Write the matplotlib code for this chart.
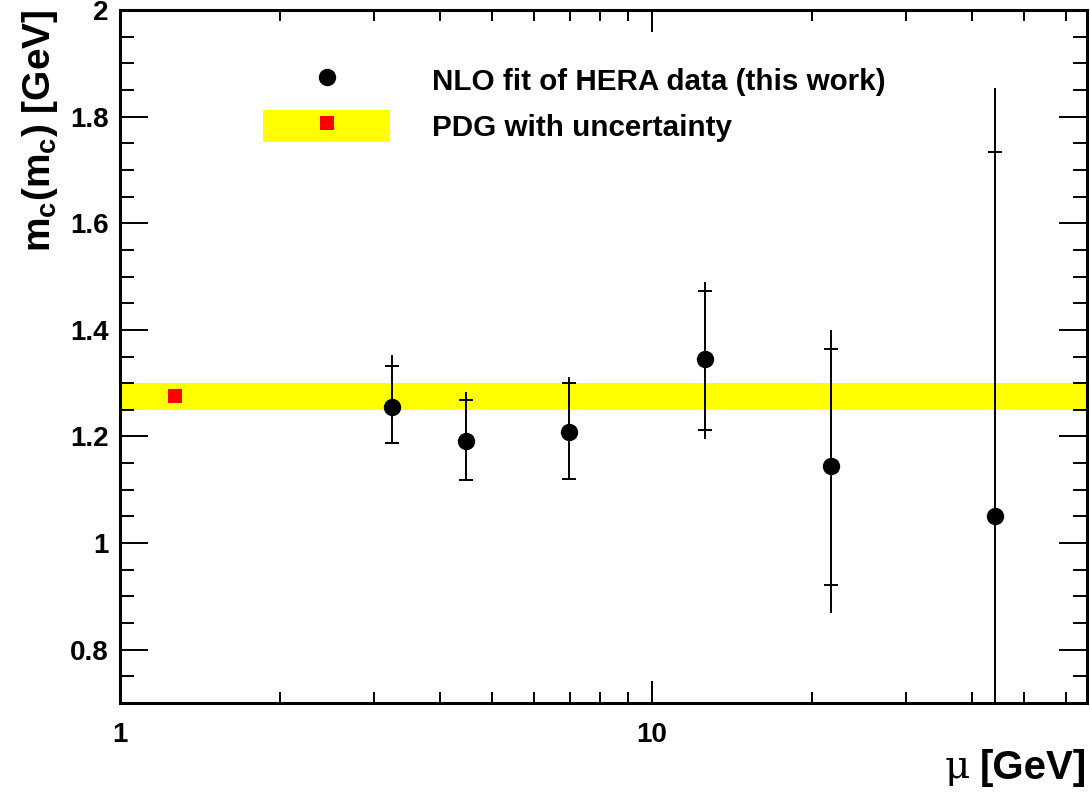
import numpy as np
import matplotlib
matplotlib.use("Agg")
import matplotlib.pyplot as plt
from matplotlib.lines import Line2D
from matplotlib.patches import Patch
from matplotlib.legend_handler import HandlerTuple

plt.rcParams['font.family'] = ['Liberation Sans', 'DejaVu Sans']
plt.rcParams['font.weight'] = 'bold'
plt.rcParams['mathtext.fontset'] = 'custom'
plt.rcParams['mathtext.rm'] = 'Liberation Sans:bold'
plt.rcParams['mathtext.it'] = 'Liberation Sans:bold'
plt.rcParams['mathtext.bf'] = 'Liberation Sans:bold'

# data
mu = [3.25, 4.47, 6.98, 12.6, 21.7, 44.2]
mc = [1.256, 1.192, 1.208, 1.345, 1.144, 1.050]
# total errors (down, up)
tot_dn = [0.069, 0.073, 0.087, 0.149, 0.275, 0.80]
tot_up = [0.096, 0.091, 0.103, 0.144, 0.255, 0.804]
# inner (stat) errors, drawn as small tick marks
stat_dn = [0.069, 0.073, 0.087, 0.132, 0.222, 0.684]
stat_up = [0.077, 0.076, 0.092, 0.128, 0.220, 0.684]

pdg_mu = 1.27
pdg_mc = 1.275
pdg_err = 0.025

labels = ['NLO fit of HERA data (this work)', 'PDG with uncertainty']

fig = plt.figure(figsize=(10.9, 7.92), dpi=100)
ax = fig.add_axes([120/1090, 89/792, 967/1090, 693/792])

ax.set_xscale('log')
ax.set_xlim(1, 65.7)
ax.set_ylim(0.7, 2.0)

# PDG band
ax.axhspan(pdg_mc - pdg_err, pdg_mc + pdg_err, color='#ffff00', lw=0, zorder=1)
ax.plot([pdg_mu], [pdg_mc], 's', color='#ff0000', ms=10.5, mew=0, zorder=3)

# fit points
mu_a = np.array(mu)
mc_a = np.array(mc)
ax.errorbar(mu_a, mc_a, yerr=[tot_dn, tot_up], fmt='o', color='black',
            ms=11.5, elinewidth=1.4, capsize=0, zorder=4)
ax.plot(mu_a, mc_a + np.array(stat_up), '_', color='black', ms=10, mew=1.4, zorder=4)
ax.plot(mu_a, mc_a - np.array(stat_dn), '_', color='black', ms=10, mew=1.4, zorder=4)

# axes styling (ROOT-like)
for s in ax.spines.values():
    s.set_linewidth(2.2)
ax.yaxis.set_major_locator(matplotlib.ticker.MultipleLocator(0.2))
ax.yaxis.set_minor_locator(matplotlib.ticker.MultipleLocator(0.05))
ax.yaxis.set_major_formatter(matplotlib.ticker.FormatStrFormatter('%g'))
ax.xaxis.set_major_locator(matplotlib.ticker.FixedLocator([1, 10]))
ax.xaxis.set_major_formatter(matplotlib.ticker.FixedFormatter(['1', '10']))
ax.xaxis.set_minor_locator(matplotlib.ticker.LogLocator(base=10, subs=np.arange(2, 10)))
ax.xaxis.set_minor_formatter(matplotlib.ticker.NullFormatter())

ax.tick_params(axis='both', which='both', direction='in', top=True, right=True,
               width=1.4, labelsize=20)
ax.tick_params(axis='y', which='major', length=20, pad=8)
ax.tick_params(axis='y', which='minor', length=10)
ax.tick_params(axis='x', which='major', length=16, pad=14)
ax.tick_params(axis='x', which='minor', length=8)
for lab in ax.get_xticklabels() + ax.get_yticklabels():
    lab.set_fontweight('bold')

# axis titles
fig.text(40/1090, 1 - 10/792, r'm$_{\mathrm{c}}$(m$_{\mathrm{c}}$) [GeV]', rotation=90,
         ha='center', va='top', fontsize=28, fontweight='bold')
fig.text(1087/1090, 1 - 768/792, '[GeV]', ha='right', va='center',
         fontsize=29, fontweight='bold')
fig.text(970/1090, 1 - 768/792, 'μ', ha='right', va='center',
         fontsize=28, fontweight='normal', family=['DejaVu Serif'])

# legend
h_fit = Line2D([], [], marker='o', color='black', ls='none', ms=11.5)
h_pdg = (Patch(facecolor='#ffff00', edgecolor='none'),
         Line2D([], [], marker='s', color='#ff0000', ls='none', ms=10.5, mew=0))
leg = fig.legend([h_fit, h_pdg], labels, loc='upper left',
                 bbox_to_anchor=(263/1090, 1 - 64/792), bbox_transform=fig.transFigure,
                 frameon=False, fontsize=21.3, handlelength=4.3, handleheight=1.25,
                 handletextpad=1.4, labelspacing=0.5, borderpad=0, borderaxespad=0,
                 handler_map={tuple: HandlerTuple(ndivide=1, pad=0)})
for t in leg.get_texts():
    t.set_fontweight('bold')

fig.savefig('out.png', dpi=100)
